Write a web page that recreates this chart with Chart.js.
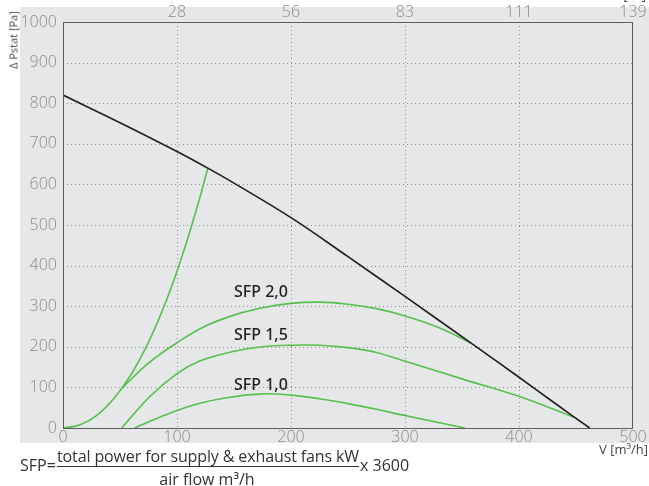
<!DOCTYPE html>
<html>
<head>
<meta charset="utf-8">
<script src="https://cdn.jsdelivr.net/npm/chart.js@4/dist/chart.umd.min.js"></script>
<style>
  html, body { margin: 0; padding: 0; background: #fff; width: 649px; height: 486px; overflow: hidden; }
  #panel { position: absolute; left: 20px; top: 7px; width: 629px; height: 436px; background: #e6e7e8; }
  #wrap { position: absolute; left: 0; top: 0; width: 649px; height: 486px; }
  .t { position: absolute; font-family: 'Open Sans', sans-serif; color: #333; white-space: nowrap; }
  #yTitle { left: 13px; top: 40px; font-size: 11px; line-height: 13px; color: #444;
            transform: translate(-50%, -50%) rotate(-90deg); }
  #xTitle { right: 1px; top: 441px; font-size: 13px; line-height: 17px; color: #444; }
  #x2Title { right: 3px; top: -13px; font-size: 13px; line-height: 17px; color: #444; }
  #sfpEq { left: 20px; top: 455px; font-size: 16px; line-height: 20px; }
  #num { left: 57px; top: 446px; font-size: 16px; line-height: 20px; letter-spacing: -0.12px;
         border-bottom: 1px solid #333; }
  #den { left: 0; top: 469px; width: 414px; text-align: center; font-size: 16px; line-height: 20px; }
  #mult { left: 360px; top: 455px; font-size: 16px; line-height: 20px; }
</style>
</head>
<body>
<div id="panel"></div>
<div id="wrap"><canvas id="c" width="649" height="486"></canvas></div>
<div class="t" id="yTitle">Δ Pstat [Pa]</div>
<div class="t" id="xTitle">V [m³/h]</div>
<div class="t" id="x2Title">V [l/s]</div>
<div class="t" id="sfpEq">SFP=</div>
<div class="t" id="num">total power for supply &amp; exhaust fans kW</div>
<div class="t" id="den">air flow m³/h</div>
<div class="t" id="mult">x 3600</div>
<script>
// Air flow axis (m³/h) and the matching l/s labels shown along the top
const flowTicks = [0, 100, 200, 300, 400, 500];
const litreTickLabels = ['', '28', '56', '83', '111', '139'];
const pressureTicks = [0, 100, 200, 300, 400, 500, 600, 700, 800, 900, 1000];

// Fan curve: static pressure against air flow
const fanFlow     = [0, 50, 100, 127, 150, 200, 250, 300, 358, 400, 430, 462];
const fanPressure = [820, 752, 681, 640, 603, 518, 422, 324, 209, 125, 64, 0];

// Steep operating limit from the origin up to the fan curve
const limitFlow     = [0, 15, 30, 45, 60, 75, 90, 105, 120, 127];
const limitPressure = [0, 8, 32, 74, 133, 211, 309, 428, 567, 640];

// Constant SFP curves
const sfp20Flow     = [52, 75, 100, 125, 150, 175, 200, 225, 250, 275, 300, 330, 358];
const sfp20Pressure = [99, 160, 210, 251, 278, 296, 307, 310, 305, 294, 276, 247, 209];

const sfp15Flow     = [51.5, 76, 100, 120, 150, 175, 200, 225, 250, 275, 296, 350, 401, 449];
const sfp15Pressure = [0, 77, 134, 165, 189, 200, 204, 204, 198, 186, 168, 121, 77, 26];

const sfp10Flow     = [63, 80, 100, 120, 145, 175, 200, 225, 250, 275, 296, 325, 352.6];
const sfp10Pressure = [0, 21, 43, 61, 75, 84, 81, 72, 60, 46, 33, 16, 0];

const sfpNames = ['SFP 2,0', 'SFP 1,5', 'SFP 1,0'];

const zip = (xs, ys) => xs.map((x, i) => ({ x, y: ys[i] }));

const GREEN = '#55c04c';
const curve = (label, xs, ys, color, width) => ({
  label, data: zip(xs, ys), borderColor: color, borderWidth: width,
  pointRadius: 0, fill: false, tension: 0.4
});

// Dotted grid at the tick values, then a thin frame round the plot area
const gridPlugin = {
  id: 'dottedGrid',
  beforeDatasetsDraw(chart) {
    const { ctx, chartArea: a } = chart;
    const xs = chart.scales.x, ys = chart.scales.y;
    ctx.save();
    ctx.strokeStyle = '#8f8f8f';
    ctx.lineWidth = 1;
    ctx.setLineDash([1, 3]);
    ctx.beginPath();
    flowTicks.slice(1, -1).forEach(v => {
      const px = Math.round(xs.getPixelForValue(v)) + 0.5;
      ctx.moveTo(px, a.top); ctx.lineTo(px, a.bottom);
    });
    pressureTicks.slice(1, -1).forEach(v => {
      const py = Math.round(ys.getPixelForValue(v)) + 0.5;
      ctx.moveTo(a.left, py); ctx.lineTo(a.right, py);
    });
    ctx.stroke();
    ctx.restore();
  },
  afterDatasetsDraw(chart) {
    const { ctx, chartArea: a } = chart;
    ctx.save();
    ctx.strokeStyle = '#5c5c5c';
    ctx.lineWidth = 1;
    ctx.strokeRect(Math.round(a.left) + 0.5, Math.round(a.top) + 0.5,
                   Math.round(a.right - a.left) - 1, Math.round(a.bottom - a.top));
    ctx.restore();
  }
};

// SFP captions written above their curves
const captionPlugin = {
  id: 'captions',
  afterDatasetsDraw(chart, args, opts) {
    const { ctx } = chart;
    const xs = chart.scales.x, ys = chart.scales.y;
    ctx.save();
    ctx.font = '500 16px "Noto Sans", sans-serif';
    ctx.fillStyle = '#222';
    ctx.textAlign = 'left';
    ctx.textBaseline = 'alphabetic';
    opts.items.forEach(it => {
      ctx.fillText(it.text, xs.getPixelForValue(it.x), ys.getPixelForValue(it.y));
    });
    ctx.restore();
  }
};

const tickFont = { family: 'Open Sans', size: 16, weight: '300' };
const tickColor = '#8a8a8a';

new Chart(document.getElementById('c'), {
  type: 'line',
  data: {
    datasets: [
      curve('fan', fanFlow, fanPressure, '#1e1e1e', 1.6),
      curve('limit', limitFlow, limitPressure, GREEN, 1.6),
      curve(sfpNames[0], sfp20Flow, sfp20Pressure, GREEN, 1.6),
      curve(sfpNames[1], sfp15Flow, sfp15Pressure, GREEN, 1.6),
      curve(sfpNames[2], sfp10Flow, sfp10Pressure, GREEN, 1.6)
    ]
  },
  options: {
    responsive: false,
    animation: false,
    devicePixelRatio: 1,
    layout: { padding: { left: 0, right: 16, top: 0, bottom: 0 } },
    plugins: {
      legend: { display: false },
      tooltip: { enabled: false },
      captions: {
        items: [
          { text: sfpNames[0], x: 150, y: 323 },
          { text: sfpNames[1], x: 150, y: 217 },
          { text: sfpNames[2], x: 150, y: 94 }
        ]
      }
    },
    scales: {
      x: {
        type: 'linear', position: 'bottom', min: 0, max: 500,
        afterBuildTicks: s => { s.ticks = flowTicks.map(v => ({ value: v })); },
        afterFit: s => { s.height = 58; },
        grid: { display: false, drawTicks: false },
        border: { display: false },
        ticks: { font: tickFont, color: tickColor, padding: 0, maxRotation: 0,
                 callback: (v) => String(v) }
      },
      xTop: {
        type: 'linear', position: 'top', min: 0, max: 500,
        afterBuildTicks: s => { s.ticks = flowTicks.map(v => ({ value: v })); },
        afterFit: s => { s.height = 22; },
        grid: { display: false, drawTicks: false },
        border: { display: false },
        ticks: { font: tickFont, color: tickColor, padding: 0, maxRotation: 0,
                 callback: (v, i) => litreTickLabels[i] }
      },
      y: {
        type: 'linear', position: 'left', min: 0, max: 1000,
        afterBuildTicks: s => { s.ticks = pressureTicks.map(v => ({ value: v })); },
        afterFit: s => { s.width = 63; },
        grid: { display: false, drawTicks: false },
        border: { display: false },
        ticks: { font: tickFont, color: tickColor, padding: 6, callback: (v) => String(v) }
      }
    }
  },
  plugins: [gridPlugin, captionPlugin]
});
</script>
</body>
</html>
